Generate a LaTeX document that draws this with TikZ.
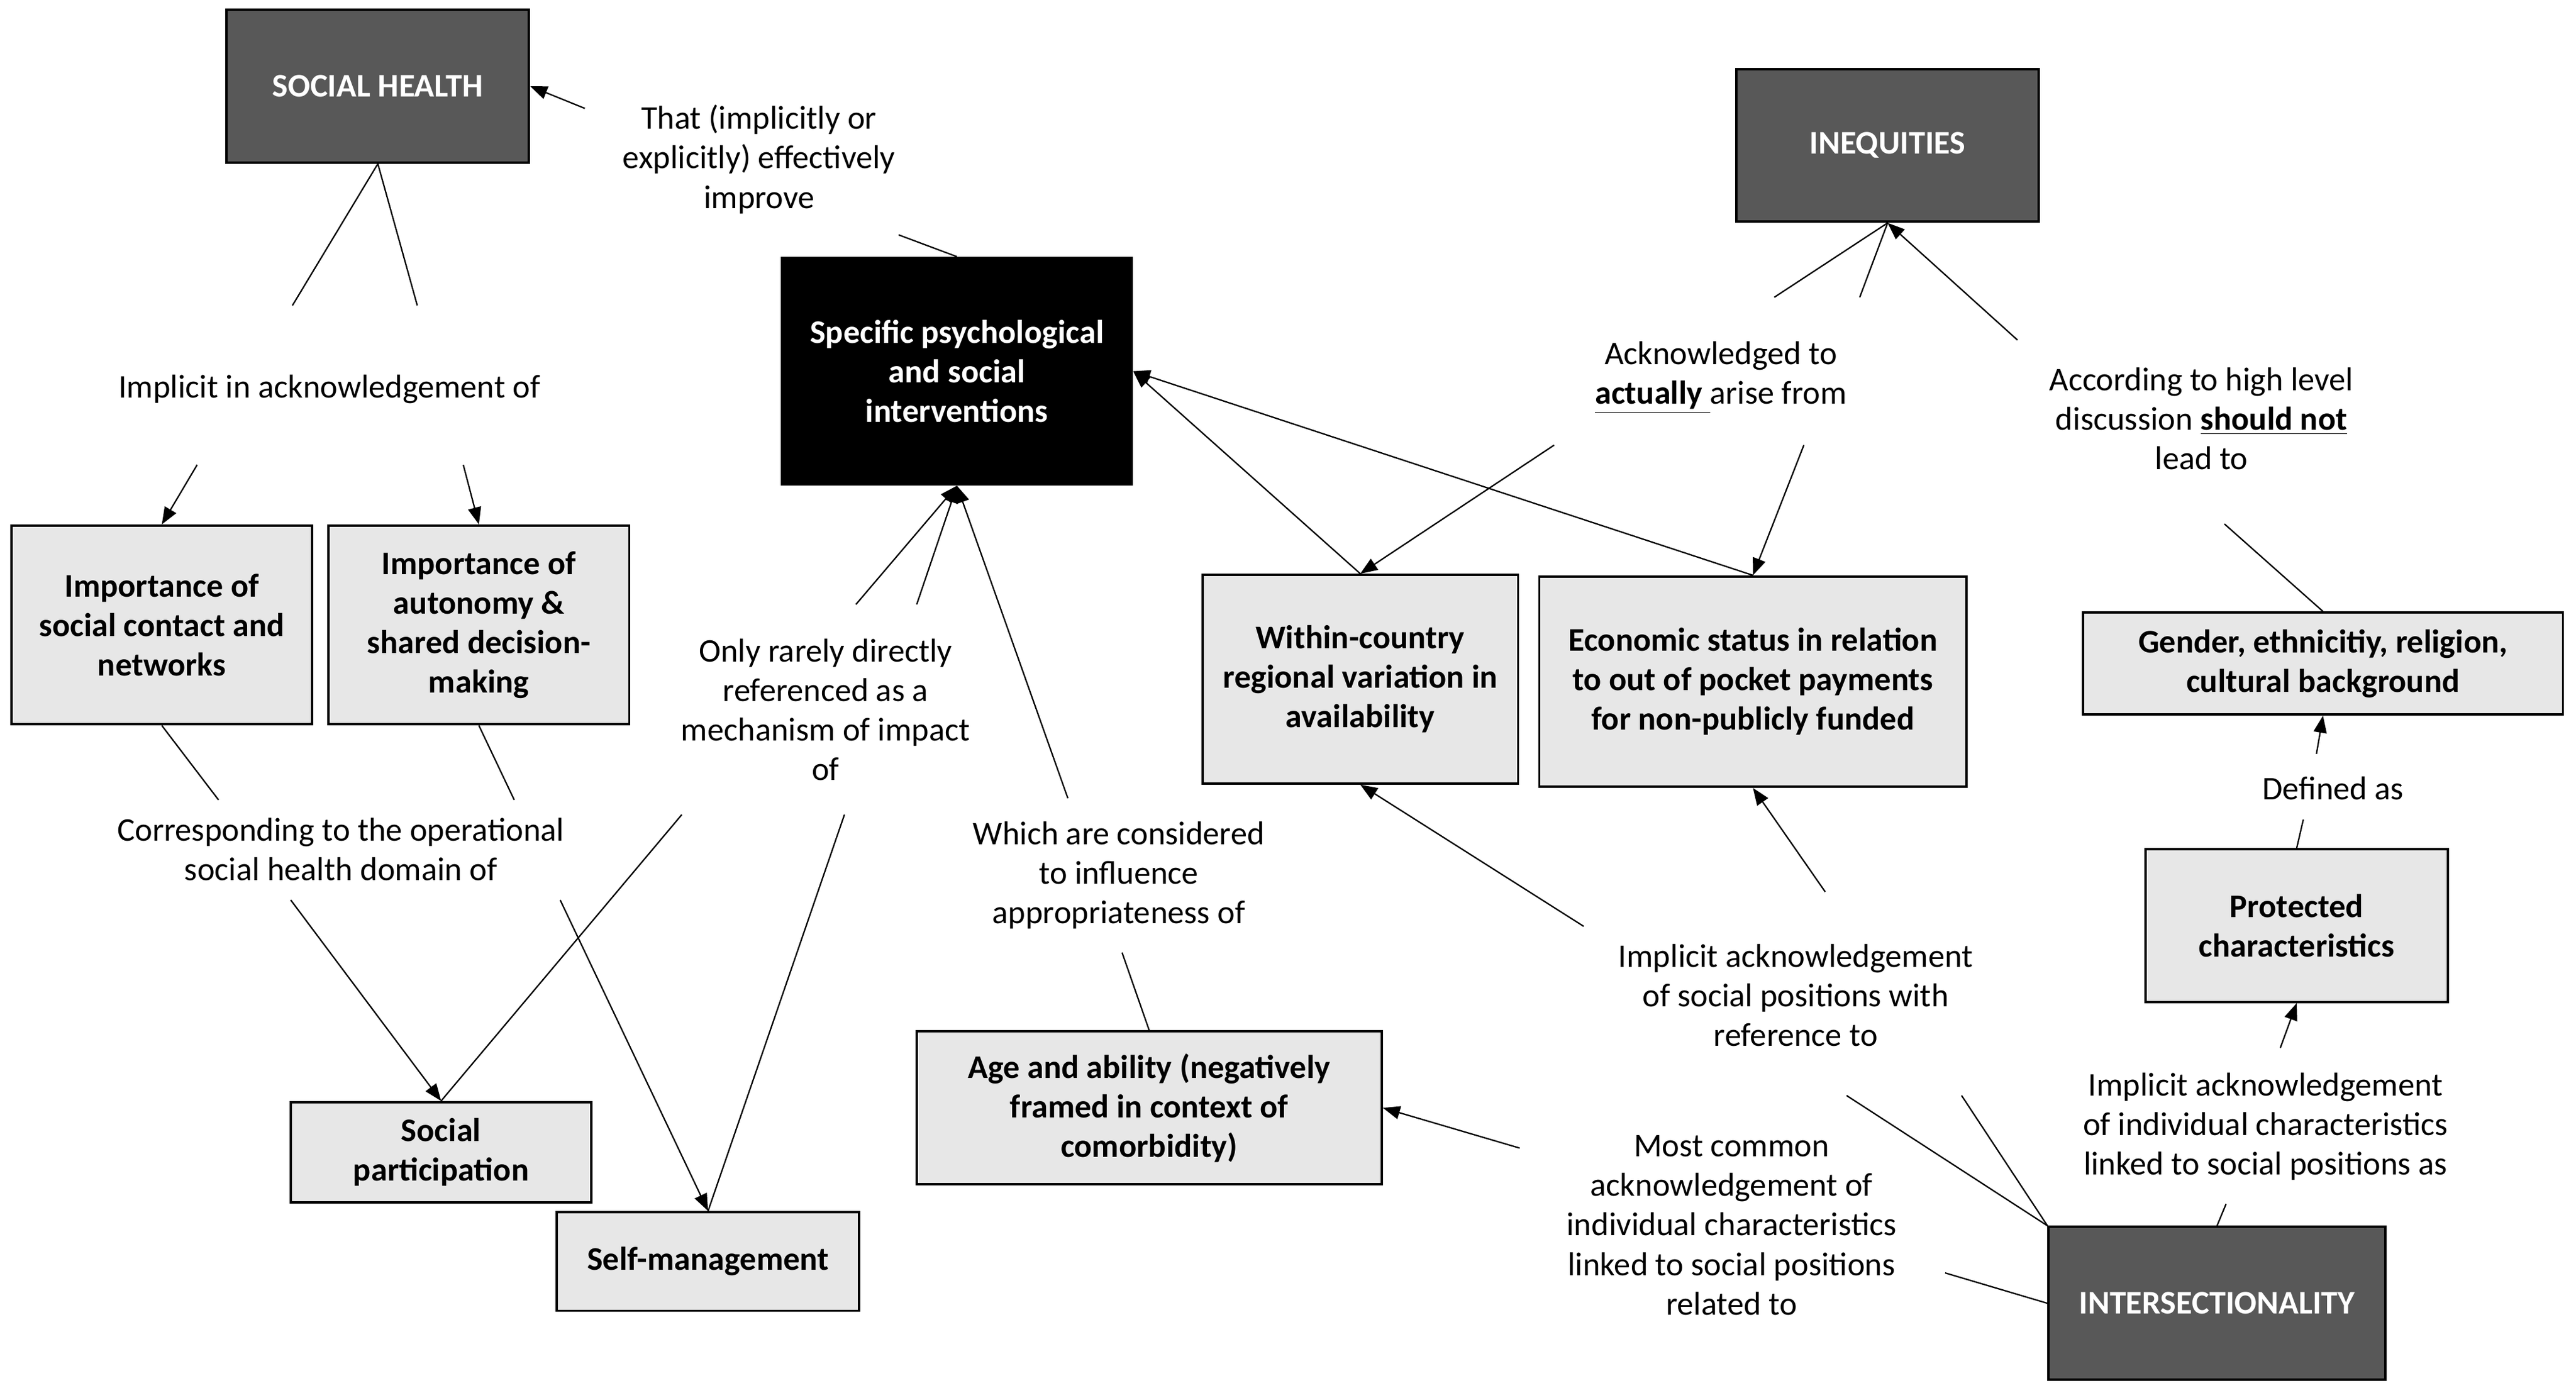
\documentclass[tikz,border=0pt]{standalone}
\usepackage{fontspec}
\setmainfont{Carlito}
\usetikzlibrary{arrows.meta}
\definecolor{darkbox}{HTML}{585858}
\definecolor{lightbox}{HTML}{E7E7E7}

\begin{document}
\begin{tikzpicture}[x=0.025cm, y=-0.025cm, >={Triangle[length=0.26cm, width=0.2cm]},
	txt/.style={font=\fontsize{14.3}{17.1}\selectfont, align=center, inner sep=0},
	topic/.style={txt, draw, line width=1pt, fill=darkbox, text=white, font=\fontsize{14.3}{17.1}\selectfont\bfseries, minimum height=2.325cm},
	hub/.style={topic, fill=black},
	item/.style={txt, draw, line width=1pt, fill=lightbox, font=\fontsize{14.3}{17.1}\selectfont\bfseries},
	link/.style={line width=0.6pt}]
	\useasboundingbox (0,0) rectangle (1568,848);

	\node[topic, minimum width=4.6cm] (socialhealth) at (230,52.5) {SOCIAL HEALTH};
	\node[topic, minimum width=4.6cm] (inequities) at (1149,88.5) {INEQUITIES};
	\node[topic, minimum width=5.125cm] (intersect) at (1349.5,793.5) {INTERSECTIONALITY};
	\node[hub, minimum width=5.325cm, minimum height=3.45cm] (interventions) at (582.5,226) {Specific psychological\\and social\\interventions};

	\node[item, minimum width=4.575cm, minimum height=3.025cm] (contact) at (98.5,380.5) {Importance of\\social contact and\\networks};
	\node[item, minimum width=4.575cm, minimum height=3.025cm] (autonomy) at (291.5,380.5) {Importance of\\autonomy \&\\shared decision-\\making};
	\node[item, minimum width=4.575cm, minimum height=1.525cm] (participation) at (268.5,701.5) {Social\\participation};
	\node[item, minimum width=4.6cm, minimum height=1.5cm] (selfmgmt) at (431,768) {Self-management};
	\node[item, minimum width=7.075cm, minimum height=2.325cm] (age) at (699.5,674.5) {Age and ability (negatively\\framed in context of\\comorbidity)};
	\node[item, minimum width=4.8cm, minimum height=3.175cm] (within) at (828,413.5) {Within-country\\regional variation in\\availability};
	\node[item, minimum width=6.5cm, minimum height=3.2cm] (economic) at (1067,415) {Economic status in relation\\to out of pocket payments\\for non-publicly funded};
	\node[item, minimum width=7.3cm, minimum height=1.55cm] (gender) at (1414,404) {Gender, ethnicitiy, religion,\\cultural background};
	\node[item, minimum width=4.6cm, minimum height=2.325cm] (protected) at (1398,563.5) {Protected\\characteristics};

	\node[txt] (improve) at (462,97) {That (implicitly or\\explicitly) effectively\\improve};
	\node[txt] (implicitof) at (200.5,237) {Implicit in acknowledgement of};
	\node[txt] (corresponding) at (207.5,517) {Corresponding to the operational\\social health domain of};
	\node[txt] (rarely) at (502.5,432) {Only rarely directly\\referenced as a\\mechanism of impact\\of};
	\node[txt] (considered) at (681,533) {Which are considered\\to influence\\appropriateness of};
	\node[txt] (arise) at (1047.5,230) {Acknowledged to\\\underline{\textbf{actually}\ }arise from};
	\node[txt] (highlevel) at (1340,255) {According to high level\\discussion \underline{\textbf{should not}}\\lead to};
	\node[txt] (defined) at (1420,480) {Defined as};
	\node[txt] (positions) at (1093,606) {Implicit acknowledgement\\of social positions with\\reference to};
	\node[txt] (individual) at (1379,686) {Implicit acknowledgement\\of individual characteristics\\linked to social positions as};
	\node[txt] (common) at (1054,746) {Most common\\acknowledgement of\\individual characteristics\\linked to social positions\\related to};

	\coordinate (ia1) at (178,186);
	\coordinate (ia2) at (254,186);
	\coordinate (ia3) at (120,283);
	\coordinate (ia4) at (282,283);
	\coordinate (im1) at (547,143);
	\coordinate (im2) at (356,66);
	\coordinate (co1) at (133,487);
	\coordinate (co2) at (313,487);
	\coordinate (co3) at (177,548);
	\coordinate (co4) at (341,548);
	\coordinate (or1) at (415,496);
	\coordinate (or2) at (514,496);
	\coordinate (or3) at (521,368);
	\coordinate (or4) at (558,368);
	\coordinate (wc1) at (683,580);
	\coordinate (wc2) at (650,486);
	\coordinate (ac1) at (1080,181);
	\coordinate (ac2) at (1132,181);
	\coordinate (ac3) at (946,271);
	\coordinate (ac4) at (1098,271);
	\coordinate (hl1) at (1354,319);
	\coordinate (hl2) at (1228,207);
	\coordinate (df1) at (1402,499);
	\coordinate (df2) at (1410,459);
	\coordinate (ii1) at (1355,733);
	\coordinate (ii2) at (1388,638);
	\coordinate (is1) at (1124,667);
	\coordinate (is2) at (1194,667);
	\coordinate (is3) at (964,564);
	\coordinate (is4) at (1111,543);
	\coordinate (mc1) at (1184,775);
	\coordinate (mc2) at (925,699);

	\draw[link] (socialhealth.south) -- (ia1);
	\draw[link] (socialhealth.south) -- (ia2);
	\draw[link, ->] (ia3) -- (contact.north);
	\draw[link, ->] (ia4) -- (autonomy.north);

	\draw[link] (interventions.north) -- (im1);
	\draw[link, ->] (im2) -- (socialhealth.east);

	\draw[link] (contact.south) -- (co1);
	\draw[link] (autonomy.south) -- (co2);
	\draw[link, ->] (co3) -- (participation.north);
	\draw[link, ->] (co4) -- (selfmgmt.north);

	\draw[link] (participation.north) -- (or1);
	\draw[link] (selfmgmt.north) -- (or2);
	\draw[link, ->] (or3) -- (interventions.south);
	\draw[link, ->] (or4) -- (interventions.south);

	\draw[link] (age.north) -- (wc1);
	\draw[link, ->] (wc2) -- (interventions.south);

	\draw[link, ->] (within.north) -- (interventions.east);
	\draw[link, ->] (economic.north) -- (interventions.east);

	\draw[link] (inequities.south) -- (ac1);
	\draw[link] (inequities.south) -- (ac2);
	\draw[link, ->] (ac3) -- (within.north);
	\draw[link, ->] (ac4) -- (economic.north);

	\draw[link] (gender.north) -- (hl1);
	\draw[link, ->] (hl2) -- (inequities.south);

	\draw[link] (protected.north) -- (df1);
	\draw[link, ->] (df2) -- (gender.south);

	\draw[link] (intersect.north) -- (ii1);
	\draw[link, ->] (ii2) -- (protected.south);

	\draw[link] (intersect.north west) -- (is1);
	\draw[link] (intersect.north west) -- (is2);
	\draw[link, ->] (is3) -- (within.south);
	\draw[link, ->] (is4) -- (economic.south);

	\draw[link] (intersect.west) -- (mc1);
	\draw[link, ->] (mc2) -- (age.east);

\end{tikzpicture}
\end{document}
